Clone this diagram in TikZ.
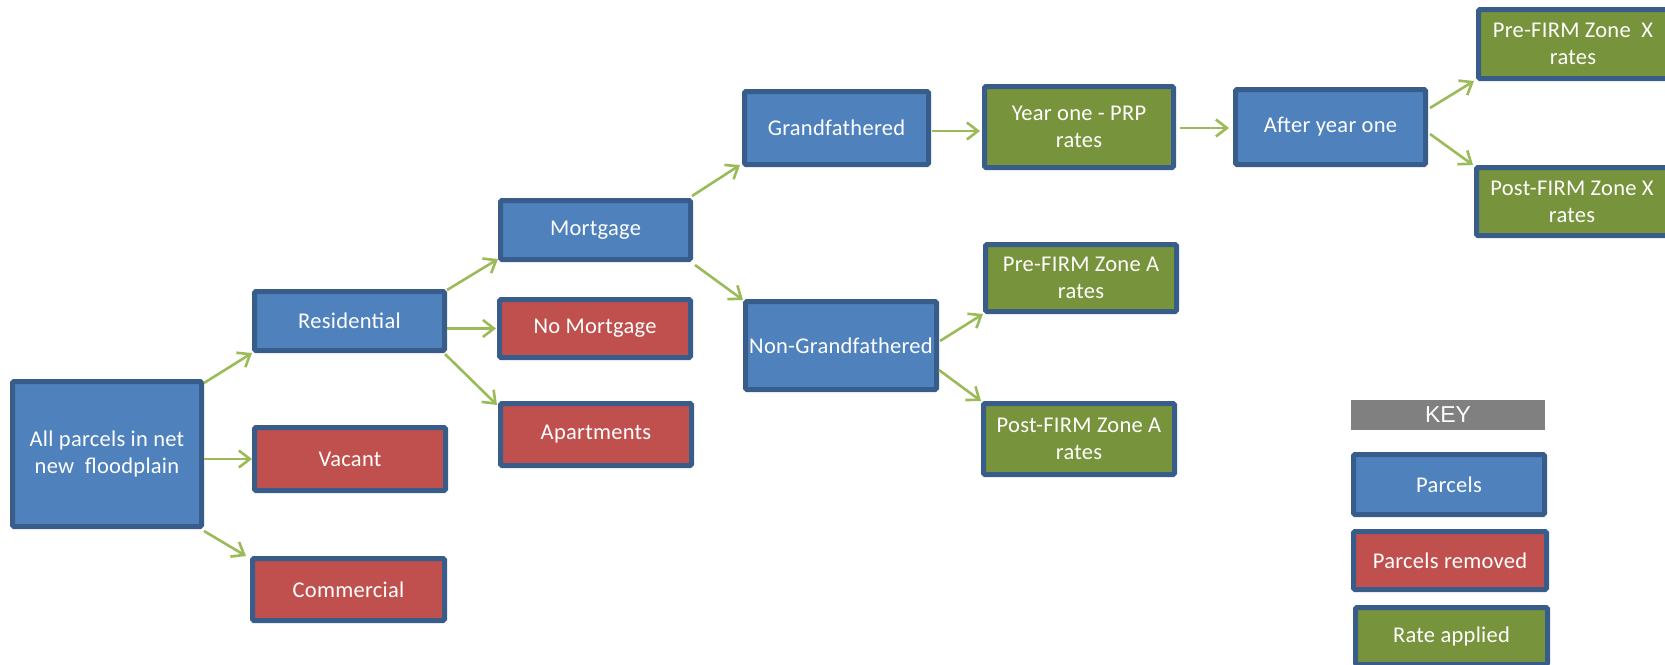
\documentclass[tikz,border=0pt]{standalone}
\usepackage{fontspec}
\setmainfont{Carlito}
\newfontfamily\keyfont{Liberation Sans}
\usetikzlibrary{arrows.meta}
\definecolor{bluef}{HTML}{4F81BD}
\definecolor{redf}{HTML}{C0504D}
\definecolor{greenf}{HTML}{77933C}
\definecolor{bord}{HTML}{385D8A}
\definecolor{arrowc}{HTML}{9BBB59}
\definecolor{keyf}{HTML}{808080}
\tikzset{
  box/.style={draw=bord, line width=5pt, rounded corners=1.5pt, text=white,
    font=\addfontfeatures{LetterSpace=1.2}\fontsize{22.5}{27}\selectfont, align=center, inner sep=0pt},
  bluebox/.style={box, fill=bluef},
  redbox/.style={box, fill=redf},
  greenbox/.style={box, fill=greenf},
  conn/.style={draw=arrowc, line width=2.6pt,
    -{Straight Barb[length=11pt,width=17pt,line width=2.6pt]}}
}
\begin{document}
\begin{tikzpicture}[x=1pt,y=-1pt]
\useasboundingbox (0,0) rectangle (1665,664);
\begin{scope}
\clip (0,0) rectangle (1665,664);
% main column
\node[bluebox, minimum width=189pt, minimum height=145pt] (all) at (107,454) {All parcels in net\\new\ \ floodplain};
\node[bluebox, minimum width=190pt, minimum height=59pt] (res) at (349.5,321) {Residential};
\node[redbox, minimum width=191pt, minimum height=63pt] (vac) at (350,459) {Vacant};
\node[redbox, minimum width=192pt, minimum height=62pt] (com) at (348.5,589.5) {Commercial};
\node[bluebox, minimum width=190pt, minimum height=59pt] (mort) at (595.5,230) {Mortgage};
\node[redbox, minimum width=191pt, minimum height=58pt] (nomort) at (595,328.5) {No Mortgage};
\node[redbox, minimum width=191pt, minimum height=62pt] (apt) at (596,434.5) {Apartments};
\node[bluebox, minimum width=184pt, minimum height=73pt] (grand) at (836.5,128) {Grandfathered};
\node[bluebox, minimum width=191pt, minimum height=88pt] (nong) at (841,345.5) {Non-Grandfathered};
\node[greenbox, minimum width=189pt, minimum height=81pt] (year) at (1079,127) {Year one - PRP\\rates};
\node[bluebox, minimum width=190pt, minimum height=75pt] (after) at (1330.5,127) {After year one};
\node[greenbox, minimum width=189pt, minimum height=69pt] (prex) at (1573,44) {Pre-FIRM Zone\ \ X\\rates};
\node[greenbox, minimum width=191pt, minimum height=68pt] (postx) at (1572,201.5) {Post-FIRM Zone X\\rates};
\node[greenbox, minimum width=191pt, minimum height=67pt] (prea) at (1081,278) {Pre-FIRM Zone A\\rates};
\node[greenbox, minimum width=191pt, minimum height=71pt] (posta) at (1079,439) {Post-FIRM Zone A\\rates};
% key
\node[fill=keyf, text=white, font=\keyfont\fontsize{23}{26}\selectfont, minimum width=194pt, minimum height=30pt, inner sep=0pt] (key) at (1448,415) {KEY};
\node[bluebox, minimum width=191pt, minimum height=60pt] (kparcels) at (1449,484.5) {Parcels};
\node[redbox, minimum width=193pt, minimum height=58pt] (kremoved) at (1450,560.5) {Parcels removed};
\node[greenbox, minimum width=192pt, minimum height=57pt] (krate) at (1451.5,636) {Rate applied};
% connectors
\draw[conn] ([yshift=-4pt]all.north east) -- (res.south west);
\draw[conn] (all.east |- vac.west) -- (vac.west);
\draw[conn] ([yshift=-2pt]all.south east) -- ([xshift=-4pt]com.north west);
\draw[conn] ([yshift=-1pt]res.north east) -- ([yshift=3pt]mort.south west);
\draw[conn] (res.east |- nomort.west) -- ([xshift=-1pt]nomort.west);
\draw[conn] ([yshift=-1pt,xshift=-2pt]res.south east) -- ([yshift=-4pt,xshift=-1pt]apt.north west);
\draw[conn] ([yshift=2pt,xshift=-1pt]mort.north east) -- ([xshift=-2pt,yshift=2pt]grand.south west);
\draw[conn] ([yshift=-3pt,xshift=2pt]mort.south east) -- ([yshift=-1pt]nong.north west);
\draw[conn] ([yshift=-3pt,xshift=1pt]grand.east) -- ([yshift=-3pt,xshift=-2pt]grand.east -| year.west);
\draw[conn] ([yshift=-1pt,xshift=4pt]year.east) -- ([yshift=-1pt,xshift=-4pt]year.east -| after.west);
\draw[conn] ([yshift=19pt,xshift=2pt]after.east) -- ([xshift=-2pt]prex.south west);
\draw[conn] ([yshift=-7pt,xshift=2pt]after.east) -- ([xshift=-1pt]postx.north west);
\draw[conn] ([yshift=4.5pt,xshift=1pt]nong.east) -- (prea.south west);
\draw[conn] ([yshift=-24.5pt]nong.east) -- (posta.north west);
\end{scope}
\end{tikzpicture}
\end{document}
